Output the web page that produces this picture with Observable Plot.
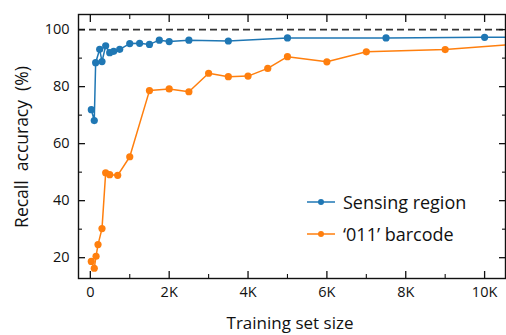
<!DOCTYPE html>
<html><head><meta charset="utf-8">
<script src="https://cdn.jsdelivr.net/npm/d3@7"></script>
<script src="https://cdn.jsdelivr.net/npm/@observablehq/plot@0.6"></script>
<style>
body{margin:0;background:#fff;font-family:"Open Sans",sans-serif;}
#wrap{position:relative;width:506px;height:335px;}
#legend{position:absolute;left:306px;top:186px;font-size:18px;color:#111;}
#legend div{display:flex;align-items:center;height:32px;}
#legend svg{margin-right:7px;}
</style></head>
<body><div id="wrap"><div id="legend"></div></div>
<script>
const sensingX = [25,100,135,237,296,389,491,592,745,1000,1250,1500,1750,2000,2500,3500,5000,7500,10000,11000];
const sensingY = [71.9,68.1,88.4,93.1,88.8,94.3,91.9,92.4,93.1,95.1,95.2,94.8,96.3,95.8,96.3,96.0,97.1,97.1,97.3,97.3];
const barcodeX = [25,100,145,195,296,389,491,694,1000,1500,2000,2500,3000,3500,4000,4500,5000,6000,7000,9000,11000];
const barcodeY = [18.7,16.3,20.5,24.6,30.2,49.8,49.1,48.9,55.4,78.6,79.2,78.2,84.7,83.5,83.7,86.4,90.5,88.7,92.2,93.0,95.1];
const seriesNames = ["Sensing region","\u2018011\u2019 barcode"];
const seriesColors = ["#1f77b4","#ff7f0e"];
const xTicks = [0,2000,4000,6000,8000,10000];
const xTickLabels = ["0","2K","4K","6K","8K","10K"];
const xMinor = [1000,3000,5000,7000,9000];
const yTicks = [20,40,60,80,100];
const yMinor = [30,50,70,90];

const sensing = sensingX.map((x,i)=>({x, y:sensingY[i]}));
const barcode = barcodeX.map((x,i)=>({x, y:barcodeY[i]}));

const font = "Open Sans";
const blank = () => "";
const chart = Plot.plot({
  width: 506, height: 335,
  marginLeft: 78, marginRight: 1, marginTop: 14, marginBottom: 57,
  style: {fontFamily: font, fontSize: "14px", color: "#111", background: "white"},
  x: {domain: [-300, 10530]},
  y: {domain: [12.7, 105.3]},
  marks: [
    Plot.ruleY([100], {stroke: "#333", strokeWidth: 1.7, strokeDasharray: "7,4"}),
    Plot.line(sensing, {x: "x", y: "y", stroke: seriesColors[0], strokeWidth: 1.5, clip: true}),
    Plot.dot(sensing, {x: "x", y: "y", fill: seriesColors[0], r: 3.6, clip: true}),
    Plot.line(barcode, {x: "x", y: "y", stroke: seriesColors[1], strokeWidth: 1.5, clip: true}),
    Plot.dot(barcode, {x: "x", y: "y", fill: seriesColors[1], r: 3.6, clip: true}),
    // labels
    Plot.axisX(xTicks, {anchor: "bottom", tickSize: 0, tickPadding: 8, tickFormat: d => xTickLabels[xTicks.indexOf(d)], fontSize: 14.5, label: null}),
    Plot.axisY(yTicks, {anchor: "left", tickSize: 0, tickPadding: 9, fontSize: 14.5, label: null}),
    // inward ticks
    Plot.axisX(xTicks, {anchor: "bottom", tickSize: -7, tickFormat: blank, label: null, strokeWidth: 1.3}),
    Plot.axisX(xTicks, {anchor: "top", tickSize: -7, tickFormat: blank, label: null, strokeWidth: 1.3}),
    Plot.axisX(xMinor, {anchor: "bottom", tickSize: -4, tickFormat: blank, label: null, strokeWidth: 1.1}),
    Plot.axisX(xMinor, {anchor: "top", tickSize: -4, tickFormat: blank, label: null, strokeWidth: 1.1}),
    Plot.axisY(yTicks, {anchor: "left", tickSize: -7, tickFormat: blank, label: null, strokeWidth: 1.3}),
    Plot.axisY(yTicks, {anchor: "right", tickSize: -7, tickFormat: blank, label: null, strokeWidth: 1.3}),
    Plot.axisY(yMinor, {anchor: "left", tickSize: -4, tickFormat: blank, label: null, strokeWidth: 1.1}),
    Plot.axisY(yMinor, {anchor: "right", tickSize: -4, tickFormat: blank, label: null, strokeWidth: 1.1}),
    Plot.frame({stroke: "#111", strokeWidth: 1.4})
  ]
});
const wrap = document.getElementById("wrap");
wrap.prepend(chart);

// axis titles
const svg = d3.select(chart);
svg.append("text").attr("x", 290).attr("y", 329).attr("text-anchor","middle")
  .attr("font-family", font).attr("font-size", 17).attr("fill","#111").text("Training set size");
svg.append("text").attr("transform","translate(28,147) rotate(-90)").attr("text-anchor","middle")
  .attr("font-family", font).attr("font-size", 17.5).attr("fill","#111").attr("xml:space","preserve").text("Recall  accuracy  (%)");

// legend
const lg = d3.select("#legend");
seriesNames.forEach((n,i)=>{
  const row = lg.append("div");
  const s = row.append("svg").attr("width",30).attr("height",10);
  s.append("line").attr("x1",1).attr("x2",29).attr("y1",5).attr("y2",5).attr("stroke",seriesColors[i]).attr("stroke-width",1.5);
  s.append("circle").attr("cx",15).attr("cy",5).attr("r",3).attr("fill",seriesColors[i]);
  row.append("span").text(n);
});
</script></body></html>
